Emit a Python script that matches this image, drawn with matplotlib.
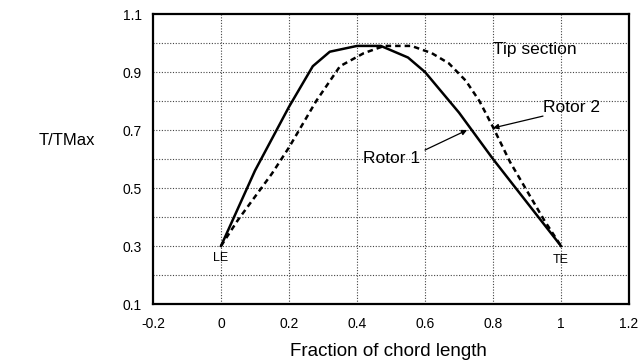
import numpy as np
import matplotlib.pyplot as plt

plt.rcParams['font.family'] = ['Liberation Sans', 'DejaVu Sans']

# thickness distribution along the chord, tip section
rotor1_x = [0.0, 0.05, 0.1, 0.2, 0.27, 0.32, 0.4, 0.47, 0.55, 0.6, 0.7, 0.8, 0.9, 1.0]
rotor1_y = [0.3, 0.43, 0.56, 0.78, 0.92, 0.97, 0.99, 0.99, 0.95, 0.9, 0.76, 0.6, 0.45, 0.3]

rotor2_x = [0.0, 0.05, 0.1, 0.15, 0.2, 0.28, 0.35, 0.42, 0.48, 0.56, 0.62, 0.67,
            0.72, 0.76, 0.8, 0.85, 0.9, 0.95, 1.0]
rotor2_y = [0.3, 0.39, 0.47, 0.55, 0.64, 0.8, 0.92, 0.965, 0.99, 0.99, 0.965, 0.93,
            0.87, 0.8, 0.71, 0.59, 0.49, 0.39, 0.3]

x_ticks = [-0.2, 0, 0.2, 0.4, 0.6, 0.8, 1, 1.2]
x_tick_labels = ['-0.2', '0', '0.2', '0.4', '0.6', '0.8', '1', '1.2']
y_ticks = [0.1, 0.3, 0.5, 0.7, 0.9, 1.1]
y_tick_labels = ['0.1', '0.3', '0.5', '0.7', '0.9', '1.1']

fig = plt.figure(figsize=(6.38, 3.64), dpi=100)
ax = fig.add_axes([0.2398, 0.1648, 0.7461, 0.7967])

ax.plot(rotor1_x, rotor1_y, color='black', lw=1.8)
ax.plot(rotor2_x, rotor2_y, color='black', lw=1.8, ls=(0, (2.2, 1.6)))

ax.set_xlim(-0.2, 1.2)
ax.set_ylim(0.1, 1.1)
ax.set_xticks(x_ticks)
ax.set_xticklabels(x_tick_labels)
ax.set_yticks(y_ticks)
ax.set_yticklabels(y_tick_labels)
ax.tick_params(length=0, labelsize=10)
ax.tick_params(axis='x', pad=9)
ax.tick_params(axis='y', pad=8)

# dotted grid every 0.1 in y
for yv in np.arange(0.2, 1.1, 0.1):
    ax.axhline(yv, color='#444444', lw=0.8, ls=(0, (1, 1.5)), zorder=0)
for xv in x_ticks[1:-1]:
    ax.axvline(xv, color='#444444', lw=0.8, ls=(0, (1, 1.5)), zorder=0)

for sp in ax.spines.values():
    sp.set_linewidth(1.6)

ax.text(0.0, 0.259, 'LE', ha='center', va='center', fontsize=9)
ax.text(1.0, 0.252, 'TE', ha='center', va='center', fontsize=9)
ax.text(0.922, 0.976, 'Tip section', ha='center', va='center', fontsize=12.5)

ax.text(0.585, 0.603, 'Rotor 1', ha='right', va='center', fontsize=12.5)
ax.annotate('', xy=(0.724, 0.70), xytext=(0.6, 0.631),
            arrowprops=dict(arrowstyle='-|>', color='black', lw=0.9,
                            mutation_scale=8, shrinkA=0, shrinkB=0))
ax.text(0.947, 0.776, 'Rotor 2', ha='left', va='center', fontsize=12.5)
ax.annotate('', xy=(0.8, 0.707), xytext=(0.947, 0.748),
            arrowprops=dict(arrowstyle='-|>', color='black', lw=0.9,
                            mutation_scale=8, shrinkA=0, shrinkB=0))

fig.text(0.105, 0.613, 'T/TMax', ha='center', va='center', fontsize=12)
fig.text(0.609, 0.033, 'Fraction of chord length', ha='center', va='center',
         fontsize=13.5)

fig.savefig('out.png', dpi=100)
